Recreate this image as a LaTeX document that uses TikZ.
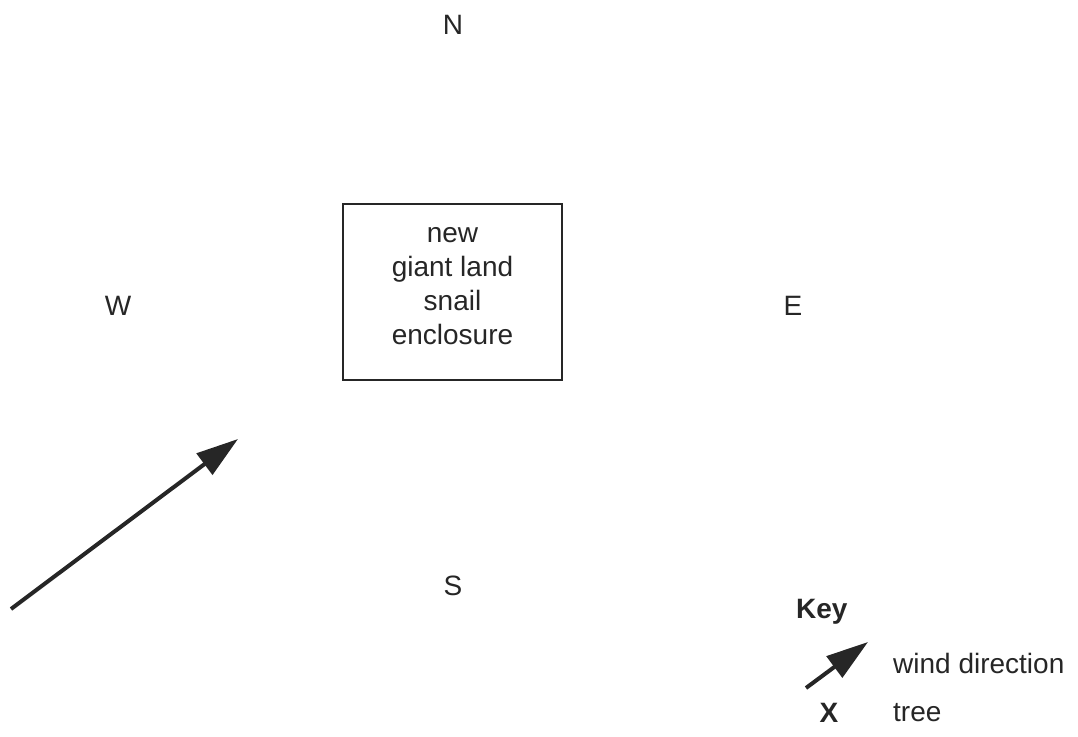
\documentclass[tikz,border=0pt]{standalone}
\usepackage{fontspec}
\setmainfont{Liberation Sans}
\usetikzlibrary{arrows.meta}
\tikzset{
  lbl/.style={font=\fontsize{28}{34}\selectfont, inner sep=0pt, text=black!85},
  enclosure/.style={draw=black!85, line width=2pt, minimum width=219pt, minimum height=176pt, align=center, font=\fontsize{28}{34}\selectfont, text=black!85},
  windarrow/.style={draw=black!85, line width=4pt, -{Triangle[length=42pt,width=26pt]}, fill=black!85}
}
\begin{document}
\begin{tikzpicture}[x=1pt,y=-1pt]
\useasboundingbox (0,0) rectangle (1078,736);
\node[lbl] (N) at (453,25) {N};
\node[lbl] (W) at (118,306) {W};
\node[lbl] (E) at (793,306) {E};
\node[lbl] (S) at (453,586) {S};
\node[enclosure] (box) at (452.5,292) {};
\node[lbl, align=center] (txt) at (452.5,286) {new\\giant land\\snail\\enclosure};
\coordinate (a1) at (11,609);
\coordinate (a2) at (238,439);
\draw[windarrow] (a1) -- (a2);
\node[lbl, font=\fontsize{28}{34}\selectfont\bfseries, anchor=west] (key) at (796,612) {Key};
\coordinate (k1) at (806,688);
\coordinate (k2) at (868,642);
\draw[windarrow] (k1) -- (k2);
\node[lbl, anchor=west] (wd) at (893,663) {wind direction};
\node[lbl, font=\fontsize{28}{34}\selectfont\bfseries] (x) at (829,713) {X};
\node[lbl, anchor=west] (tree) at (893,713) {tree};
\end{tikzpicture}
\end{document}
